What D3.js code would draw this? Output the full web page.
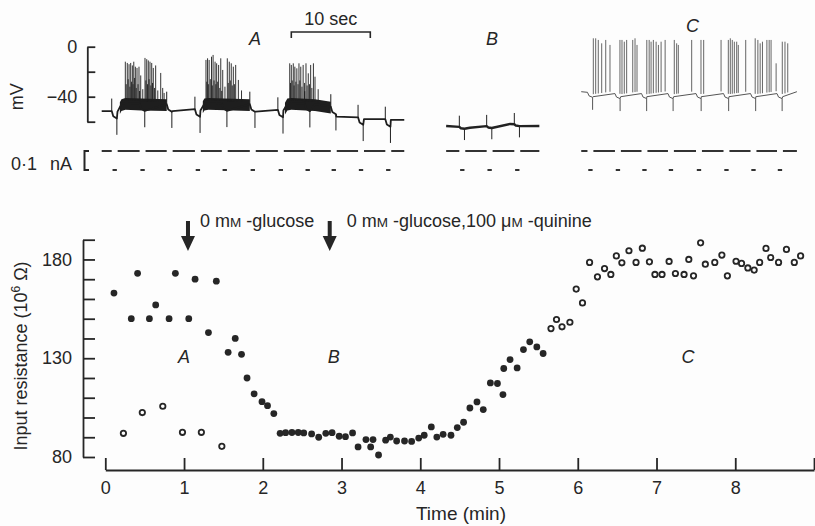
<!DOCTYPE html>
<html>
<head>
<meta charset="utf-8">
<script src="https://cdn.jsdelivr.net/npm/d3@7"></script>
<style>
  body { margin: 0; background: #fdfdfd; }
  svg { display: block; font-family: "Liberation Sans", Arial, sans-serif; }
</style>
</head>
<body>
<svg id="figure"></svg>
<script>
// ---- recorder traces (time in s along the sweep, potential in mV) ----
const traceALevels = [
    [0, -51.5], [1.27, -51.5], [2.0, -52], [2.5, -46], [3.0, -45], [5.0, -45.5], [8.23, -46],
    [8.95, -51.5], [11.8, -50],
    [12.5, -51], [13.0, -45.5], [13.5, -45], [18.75, -46],
    [19.5, -52], [22.3, -50.5],
    [23.0, -51], [23.5, -45.5], [24.0, -45], [27.0, -46], [29.0, -48],
    [29.7, -56], [32.45, -56.5],
    [33.2, -58], [35.9, -58],
    [36.6, -58.5], [38.3, -58.5]
];
const traceAPulses = [1.27, 4.8, 8.23, 11.8, 15.2, 18.75, 22.3, 25.7, 29.0, 32.45, 35.9];
const traceABursts = [[2.3, 8.23], [12.8, 18.75], [23.2, 29.0]];
const traceASpikes = [
    [2.99, -12], [3.1, -30], [3.24, -13], [3.35, -26], [3.46, -14], [3.57, -32], [3.67, -13], [3.78, -28],
    [3.88, -15], [3.97, -30], [4.06, -12], [4.16, -25], [4.26, -16], [4.37, -33], [4.47, -17], [4.6, -30],
    [4.72, -16], [4.94, -23], [5.2, -34], [5.48, -9], [5.59, -27], [5.7, -10], [5.8, -30], [5.9, -11],
    [6.0, -26], [6.11, -12], [6.22, -31], [6.33, -13], [6.43, -29], [6.53, -17], [6.68, -33], [6.83, -15],
    [7.1, -35], [7.47, -21], [7.72, -33], [7.9, -37],
    [13.2, -10.6], [13.3, -28], [13.4, -9.3], [13.5, -30], [13.6, -10.6], [13.75, -26], [13.9, -8], [14.0, -31],
    [14.1, -6.6], [14.22, -27], [14.35, -12], [14.45, -30], [14.55, -13.3], [14.68, -28], [14.8, -14.6],
    [14.95, -33], [15.07, -9.3], [15.32, -18.6], [15.6, -32], [15.9, -9.3], [16.02, -29], [16.15, -12],
    [16.28, -27], [16.4, -13.3], [16.53, -31], [16.66, -16], [16.8, -30], [16.96, -14.6], [17.3, -26.6], [17.7, -35],
    [23.8, -13.3], [23.9, -29], [24.0, -14.6], [24.12, -27], [24.25, -13.3], [24.35, -31], [24.45, -16],
    [24.58, -28], [24.7, -17.3], [24.85, -30], [24.97, -13.3], [25.08, -27], [25.2, -16], [25.35, -32],
    [25.5, -14.6], [25.68, -29], [25.86, -13.3], [26.0, -31], [26.15, -21.3], [26.3, -30], [26.45, -14.6],
    [26.6, -33], [26.8, -13.3], [27.0, -24], [27.4, -34]
];

const traceBLevels = [[43.6, -63.4], [46.6, -64.8], [51.7, -61.8], [55.4, -63.4]];
const traceBPulses = [45.27, 48.73, 52.23];

const traceCLevels = [
    [60.7, -36], [61.49, -36.5], [62.2, -40], [64.97, -37.5], [65.7, -40], [68.33, -37.5], [69.0, -40],
    [71.68, -37.5], [72.4, -40], [75.23, -37.5], [75.9, -40], [78.71, -37.5], [79.4, -40], [82.13, -37.5],
    [82.8, -40], [85.48, -37.5], [86.2, -40], [88.0, -36]
];
const traceCPulses = [61.49, 64.97, 68.33, 71.68, 75.23, 78.71, 82.13, 85.48];
const traceCSpikes = [
    [62.23, 6.7], [62.53, 6.7], [62.86, 5.4], [63.29, 2.7], [63.8, 5.4], [64.34, 1.4],
    [65.6, 5.4], [65.86, 5.4], [66.15, 4.0], [66.45, 5.4], [67.22, 5.4], [67.51, 6.7], [67.76, 1.4],
    [69.0, 5.4], [69.3, 5.4], [69.54, 4.0], [69.83, 5.4], [70.18, 4.0], [70.47, 1.4], [70.81, 4.0], [71.32, 5.4],
    [72.48, 5.4], [72.78, 2.7], [72.99, 1.4], [74.68, 5.4],
    [75.86, 5.4], [76.2, 5.4], [78.4, 5.4],
    [79.32, 5.4], [79.57, 6.7], [79.82, 5.4], [80.08, 4.0], [80.38, 4.0], [80.58, 1.4], [81.52, 5.4],
    [82.72, 6.7], [83.06, 5.4], [83.35, 2.7], [83.64, 4.0], [84.2, 5.4], [84.49, 5.4], [84.73, 5.4], [85.37, -13.3],
    [86.15, 4.0], [86.49, 4.0], [86.84, 2.7]
];
const potentialTicks = [0, -20, -40, -60];
const potentialLabels = [0, -40];

// ---- input resistance (time in min, resistance in 10^6 ohm) ----
const controlTime = [0.11, 0.33, 0.41, 0.56, 0.64, 0.81, 0.89, 1.06, 1.14, 1.31, 1.41, 1.56, 1.65, 1.73,
    1.80, 1.89, 1.99, 2.06, 2.14, 2.22, 2.29, 2.37, 2.45, 2.52, 2.62, 2.71, 2.80, 2.88, 2.97, 3.05, 3.14,
    3.21, 3.31, 3.37, 3.40, 3.47, 3.56, 3.62, 3.70, 3.80, 3.89, 3.98, 4.05, 4.14, 4.21, 4.29, 4.39, 4.47,
    4.55, 4.63, 4.72, 4.80, 4.89, 4.98, 5.05, 5.06, 5.14, 5.23, 5.31, 5.39, 5.48, 5.56];
const controlResistance = [163, 150, 173, 150, 157, 150, 173, 150, 170, 143, 169, 133, 140, 132,
    120, 112, 108, 106, 102, 92, 92.3, 92.4, 92.4, 92.2, 91.7, 90.0, 92.0, 92.3, 90.5, 90.3, 92.2,
    85.1, 88.8, 85.1, 88.8, 81, 88.5, 90.1, 88.1, 88.1, 87.9, 89.6, 91.0, 95.2, 90.1, 91.5, 91.0, 94.9,
    97.6, 104.8, 107.9, 104.0, 117.5, 117.2, 111.6, 124.8, 129.3, 125.1, 134.4, 138.3, 135.7, 132.4];

const openTime = [0.23, 0.47, 0.73, 0.98, 1.22, 1.48,
    5.66, 5.73, 5.80, 5.90, 5.98, 6.06, 6.15, 6.25, 6.34, 6.42, 6.49, 6.56, 6.65, 6.74, 6.82, 6.91,
    6.98, 7.07, 7.16, 7.24, 7.35, 7.41, 7.47, 7.56, 7.62, 7.74, 7.83, 7.90, 8.01, 8.08, 8.16, 8.24,
    8.31, 8.39, 8.45, 8.55, 8.65, 8.75, 8.83];
const openResistance = [92, 102.5, 105.7, 92.5, 92.5, 85.4,
    145, 149.6, 145.9, 148.2, 165, 158, 178.5, 171.2, 175.4, 172.4, 181.8, 178.3, 184.4, 178.5, 185.7, 178.8,
    172.4, 172.4, 179, 172.9, 172.4, 180, 171.7, 188.4, 177.6, 178.5, 182.2, 171.7, 179.1, 178, 175.7, 174.6,
    178.5, 185.6, 181, 178.5, 185.1, 178.5, 181.8];

const timeTicks = [0, 1, 2, 3, 4, 5, 6, 7, 8, 9];
const timeLabels = [0, 1, 2, 3, 4, 5, 6, 7, 8];
const resistanceTicks = [80, 90, 100, 110, 120, 130, 140, 150, 160, 170, 180, 190];
const resistanceLabels = [80, 130, 180];
const treatmentTimes = [1.05, 2.85];
const panelNames = ['A', 'B', 'C'];
const panelTimes = [1.0, 2.9, 7.4];


class ResistanceFigure {
    constructor(_config) {
        this.config = {
            parentElement: _config.parentElement,
            containerWidth: 815,
            containerHeight: 526,
            fontSize: 18,
            ink: '#262626',
            pulseLength: 0.65
        };
        this.initVis();
    }

    initVis() {
        let vis = this;

        vis.svg = d3.select(vis.config.parentElement)
            .attr('width', vis.config.containerWidth)
            .attr('height', vis.config.containerHeight)
            .attr('font-size', vis.config.fontSize)
            .attr('fill', vis.config.ink);

        // sweep: 10 s = 79 px; 20 mV = 25 px; 0.1 nA = 19 px
        vis.tx = d3.scaleLinear().domain([0, 10]).range([101.7, 180.7]);
        vis.ty = d3.scaleLinear().domain([0, -60]).range([46.7, 121.7]);
        vis.ti = d3.scaleLinear().domain([0, -0.1]).range([151, 170]);

        vis.x = d3.scaleLinear().domain([0, 9]).range([105.3, 814]);
        vis.y = d3.scaleLinear().domain([80, 190]).range([457, 239.7]);

        vis.renderTraces();
        vis.renderScatter();
    }

    styleAxis(g) {
        let vis = this;
        g.attr('font-size', vis.config.fontSize).attr('font-family', null);
        g.selectAll('path, line').attr('stroke', vis.config.ink).attr('stroke-width', 1.8);
        g.selectAll('text').attr('fill', vis.config.ink);
    }

    renderTraces() {
        let vis = this;
        const pl = vis.config.pulseLength;

        const traces = [
            { levels: traceALevels, pulses: traceAPulses, spikes: traceASpikes, bursts: traceABursts,
              dip: 6, up: 10, down: 13, width: 1.8, spikeWidth: 0.9, color: '#1e1e1e' },
            { levels: traceBLevels, pulses: traceBPulses, spikes: [], bursts: [],
              dip: 1.5, up: 9, down: 9, width: 2.4, spikeWidth: 1, color: '#222' },
            { levels: traceCLevels, pulses: traceCPulses, spikes: traceCSpikes, bursts: [],
              dip: 4, up: 0, down: 10, width: 1, spikeWidth: 0.9, color: '#555' }
        ];

        const line = d3.line().x(d => vis.tx(d[0])).y(d => vis.ty(d[1]));

        traces.forEach(tr => {
            const env = d3.scaleLinear()
                .domain(tr.levels.map(d => d[0]))
                .range(tr.levels.map(d => d[1]));
            const g = vis.svg.append('g').attr('stroke', tr.color).attr('fill', 'none');

            // bursts of firing: the dense part is a dark band
            tr.bursts.forEach(b => {
                const ts = [b[0], ...tr.levels.map(d => d[0]).filter(t => t > b[0] && t < b[1]), b[1]];
                g.append('path')
                    .datum(ts)
                    .attr('d', d3.area()
                        .x(t => vis.tx(t))
                        .y0(t => vis.ty(env(t) - 5.5))
                        .y1(t => vis.ty(env(t) + 4)))
                    .attr('fill', tr.color)
                    .attr('stroke', 'none');
            });

            // membrane potential with responses to the current pulses
            let pts = tr.levels.filter(d => !tr.pulses.some(t => d[0] > t && d[0] <= t + pl));
            tr.pulses.forEach(t => {
                const L = env(t);
                pts.push([t, L], [t + pl * 0.3, L - tr.dip * 0.7], [t + pl, L - tr.dip]);
            });
            pts.sort((a, b) => a[0] - b[0]);

            g.append('path')
                .attr('d', line(pts))
                .attr('stroke-width', tr.width)
                .attr('stroke-linejoin', 'round');

            // bridge artifacts at pulse on / off
            g.selectAll('.art-on')
                .data(tr.pulses.filter(() => tr.up > 0))
                .join('line')
                .attr('class', 'art-on')
                .attr('x1', t => vis.tx(t)).attr('x2', t => vis.tx(t))
                .attr('y1', t => vis.ty(env(t)))
                .attr('y2', t => vis.ty(env(t) + tr.up))
                .attr('stroke-width', 1);
            g.selectAll('.art-off')
                .data(tr.pulses)
                .join('line')
                .attr('class', 'art-off')
                .attr('x1', t => vis.tx(t + pl)).attr('x2', t => vis.tx(t + pl))
                .attr('y1', t => vis.ty(env(t) - tr.dip))
                .attr('y2', t => vis.ty(env(t) - tr.dip - tr.down))
                .attr('stroke-width', 1);

            // action potentials
            g.selectAll('.spike')
                .data(tr.spikes)
                .join('line')
                .attr('class', 'spike')
                .attr('x1', d => vis.tx(d[0])).attr('x2', d => vis.tx(d[0]))
                .attr('y1', d => vis.ty(env(d[0]) + 2))
                .attr('y2', d => vis.ty(d[1]))
                .attr('stroke-width', tr.spikeWidth);

            // injected current: holding level with gaps, pulses below
            const start = tr.levels[0][0];
            const end = tr.levels[tr.levels.length - 1][0];
            const edges = [start];
            tr.pulses.forEach(t => edges.push(t, t + pl + 0.1));
            edges.push(end);
            const holding = [];
            for (let i = 0; i < edges.length; i += 2) holding.push([edges[i], edges[i + 1]]);

            const cur = vis.svg.append('g').attr('stroke', '#333').attr('stroke-width', 2);
            cur.selectAll('.hold')
                .data(holding)
                .join('line')
                .attr('x1', d => vis.tx(d[0])).attr('x2', d => vis.tx(d[1]))
                .attr('y1', vis.ti(0)).attr('y2', vis.ti(0));
            cur.selectAll('.step')
                .data(tr.pulses)
                .join('line')
                .attr('x1', t => vis.tx(t + 0.1)).attr('x2', t => vis.tx(t + pl))
                .attr('y1', vis.ti(-0.1)).attr('y2', vis.ti(-0.1));
        });

        // potential scale
        const mvAxis = d3.axisLeft(vis.ty)
            .tickValues(potentialTicks)
            .tickFormat(d => potentialLabels.includes(d) ? d3.format('')(d) : '')
            .tickSizeInner(-8)
            .tickSizeOuter(0)
            .tickPadding(10);
        vis.svg.append('g')
            .attr('transform', 'translate(87.3,0)')
            .call(mvAxis)
            .call(g => vis.styleAxis(g));

        vis.svg.append('text')
            .attr('transform', `translate(23,${vis.ty(-40)})rotate(-90)`)
            .attr('text-anchor', 'middle')
            .text('mV');

        // current scale bracket
        vis.svg.append('path')
            .attr('d', `M89,${vis.ti(0)}H84.5V${vis.ti(-0.1)}H89`)
            .attr('fill', 'none')
            .attr('stroke', vis.config.ink)
            .attr('stroke-width', 2);
        vis.svg.append('text').attr('x', 11).attr('y', 170).text('0·1');
        vis.svg.append('text').attr('x', 50).attr('y', 170).text('nA');

        // time bar
        vis.svg.append('path')
            .attr('d', `M${vis.tx(24)},38V32H${vis.tx(34)}V38`)
            .attr('fill', 'none')
            .attr('stroke', vis.config.ink)
            .attr('stroke-width', 1.6);
        vis.svg.append('text')
            .attr('x', vis.tx(29)).attr('y', 25)
            .attr('text-anchor', 'middle')
            .text('10 sec');

        // trace names
        const traceNameTimes = [19.4, 49.4, 74.8];
        const traceNameY = [45, 45, 32];
        vis.svg.selectAll('.trace-name')
            .data(panelNames)
            .join('text')
            .attr('class', 'trace-name')
            .attr('x', (d, i) => vis.tx(traceNameTimes[i]))
            .attr('y', (d, i) => traceNameY[i])
            .attr('text-anchor', 'middle')
            .attr('font-style', 'italic')
            .text(d => d);
    }

    renderScatter() {
        let vis = this;

        const yAxis = d3.axisLeft(vis.y)
            .tickValues(resistanceTicks)
            .tickFormat(d => resistanceLabels.includes(d) ? d : '')
            .tickSizeInner(-12)
            .tickSizeOuter(0)
            .tickPadding(11);
        vis.svg.append('g')
            .attr('transform', 'translate(83,0)')
            .call(yAxis)
            .call(g => vis.styleAxis(g));

        const xAxis = d3.axisBottom(vis.x)
            .tickValues(timeTicks)
            .tickFormat(d => timeLabels.includes(d) ? d : '')
            .tickSizeInner(-12)
            .tickSizeOuter(0)
            .tickPadding(11);
        vis.svg.append('g')
            .attr('transform', 'translate(0,470)')
            .call(xAxis)
            .call(g => vis.styleAxis(g));

        vis.svg.append('text')
            .attr('x', 461).attr('y', 520)
            .attr('text-anchor', 'middle')
            .attr('font-size', 19)
            .text('Time (min)');

        vis.svg.append('text')
            .attr('transform', 'translate(27,356)rotate(-90)')
            .attr('text-anchor', 'middle')
            .html('Input resistance (10<tspan dy="-7" font-size="12">6</tspan><tspan dy="7"> Ω)</tspan>');

        // treatment arrows and labels
        vis.svg.selectAll('.arrow')
            .data(treatmentTimes)
            .join('path')
            .attr('class', 'arrow')
            .attr('d', t => {
                const cx = vis.x(t);
                return `M${cx - 2},221V236H${cx - 7}L${cx},251L${cx + 7},236H${cx + 2}V221Z`;
            })
            .attr('fill', vis.config.ink);

        vis.svg.append('text')
            .attr('x', vis.x(treatmentTimes[0]) + 12).attr('y', 227)
            .html('0 m<tspan font-size="13.5">M</tspan> -glucose');
        vis.svg.append('text')
            .attr('x', vis.x(treatmentTimes[1]) + 17).attr('y', 227)
            .html('0 m<tspan font-size="13.5">M</tspan> -glucose,100 μ<tspan font-size="13.5">M</tspan> -quinine');

        // data points
        vis.svg.append('g')
            .selectAll('circle')
            .data(d3.zip(controlTime, controlResistance))
            .join('circle')
            .attr('cx', d => vis.x(d[0]))
            .attr('cy', d => vis.y(d[1]))
            .attr('r', 3.4)
            .attr('fill', vis.config.ink);

        vis.svg.append('g')
            .selectAll('circle')
            .data(d3.zip(openTime, openResistance))
            .join('circle')
            .attr('cx', d => vis.x(d[0]))
            .attr('cy', d => vis.y(d[1]))
            .attr('r', 2.7)
            .attr('fill', 'none')
            .attr('stroke', vis.config.ink)
            .attr('stroke-width', 1.8);

        vis.svg.selectAll('.panel-name')
            .data(panelNames)
            .join('text')
            .attr('class', 'panel-name')
            .attr('x', (d, i) => vis.x(panelTimes[i]))
            .attr('y', vis.y(130) + 5)
            .attr('text-anchor', 'middle')
            .attr('font-style', 'italic')
            .text(d => d);
    }
}

new ResistanceFigure({ parentElement: '#figure' });
</script>
</body>
</html>
